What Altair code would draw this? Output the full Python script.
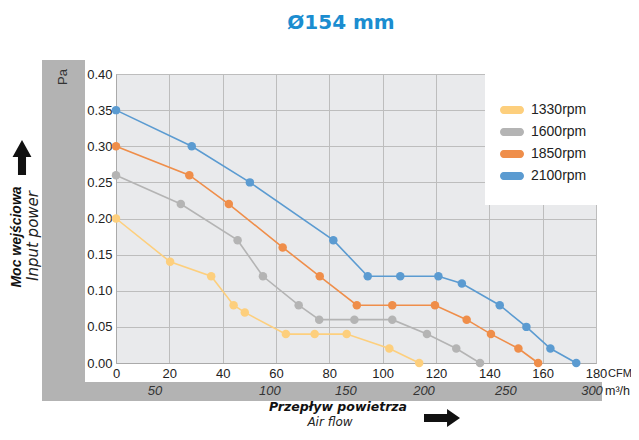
import altair as alt
import pandas as pd

# ---- data ----
series_names = ["1330rpm", "1600rpm", "1850rpm", "2100rpm"]
series_colors = ["#fdcf7d", "#b4b4b4", "#ef8e4a", "#5b9bd1"]

cfm_1330 = [0, 20.3, 35.7, 44.1, 48.3, 63.7, 74.5, 86.5, 102.5, 113.7]
pa_1330 = [0.20, 0.14, 0.12, 0.08, 0.07, 0.04, 0.04, 0.04, 0.02, 0.00]

cfm_1600 = [0, 24.3, 45.6, 55.1, 68.5, 76.2, 89.4, 103.6, 116.6, 127.6, 136.5]
pa_1600 = [0.26, 0.22, 0.17, 0.12, 0.08, 0.06, 0.06, 0.06, 0.04, 0.02, 0.00]

cfm_1850 = [0, 27.5, 42.3, 62.5, 76.4, 90.3, 103.6, 119.6, 131.5, 140.6, 150.9, 158.3]
pa_1850 = [0.30, 0.26, 0.22, 0.16, 0.12, 0.08, 0.08, 0.08, 0.06, 0.04, 0.02, 0.00]

cfm_2100 = [0, 28.4, 50.2, 81.5, 94.4, 106.6, 120.9, 129.7, 143.9, 153.9, 162.9, 172.6]
pa_2100 = [0.35, 0.30, 0.25, 0.17, 0.12, 0.12, 0.12, 0.11, 0.08, 0.05, 0.02, 0.00]

x_ticks = [0, 10, 20, 30, 40, 50, 60, 70, 80, 90, 100, 110, 120, 130, 140, 150, 160, 170, 180]
y_ticks = [0.0, 0.05, 0.10, 0.15, 0.20, 0.25, 0.30, 0.35, 0.40]

m3h_labels = ["50", "100", "150", "200", "250", "300"]
m3h_label_pos_cfm = [14.6, 57.7, 86.2, 115.5, 146.2, 178.5]

title_text = "Ø154 mm"

# ---- build table ----
rows = []
for name, xs, ys in zip(series_names,
                        [cfm_1330, cfm_1600, cfm_1850, cfm_2100],
                        [pa_1330, pa_1600, pa_1850, pa_2100]):
    for i, (a, b) in enumerate(zip(xs, ys)):
        rows.append({"series": name, "cfm": a, "pa": b, "idx": i})
df = pd.DataFrame(rows)
m3h_df = pd.DataFrame({"label": m3h_labels, "pos": m3h_label_pos_cfm})
one = pd.DataFrame({"a": [0]})

FONT = "Liberation Sans"
TXT = "#222222"
GRID = "#bdbdbd"

xscale = alt.Scale(domain=[0, 180], nice=False, zero=False)
yscale = alt.Scale(domain=[0, 0.4], nice=False)
cscale = alt.Scale(domain=series_names, range=series_colors)

xaxis = alt.Axis(values=x_ticks, format="d", title=None, labelFont=FONT,
                 labelFontSize=13, labelColor=TXT, ticks=False, tickSize=0,
                 labelPadding=4, domainColor="#aaaaaa", gridColor=GRID,
                 gridWidth=1, labelOverlap=False, labelFlush=False)
yaxis = alt.Axis(values=y_ticks, format=".2f", title=None, labelFont=FONT,
                 labelFontSize=13, labelColor=TXT, ticks=False, tickSize=0,
                 labelPadding=4, domainColor="#aaaaaa", gridColor=GRID,
                 gridWidth=1, labelOverlap=False, labelFlush=False)

pill = "M-0.7,-0.33L0.7,-0.33A0.3,0.33 0 0 1 1,0A0.3,0.33 0 0 1 0.7,0.33L-0.7,0.33A0.3,0.33 0 0 1 -1,0A0.3,0.33 0 0 1 -0.7,-0.33Z"

legend = alt.Legend(
    title=None, orient="none", legendX=384, legendY=24,
    symbolType=pill, symbolSize=576, symbolStrokeWidth=0,
    symbolOpacity=1, labelFont=FONT, labelFontSize=14, labelColor=TXT,
    labelOffset=7, rowPadding=3, padding=0, zindex=2)

lines = alt.Chart(df).mark_line(strokeWidth=1.6).encode(
    x=alt.X("cfm:Q", scale=xscale, axis=xaxis),
    y=alt.Y("pa:Q", scale=yscale, axis=yaxis),
    color=alt.Color("series:N", scale=cscale, legend=legend),
    order="idx:Q",
)

points = alt.Chart(df).mark_circle(size=72, opacity=1).encode(
    x=alt.X("cfm:Q", scale=xscale, axis=xaxis),
    y=alt.Y("pa:Q", scale=yscale, axis=yaxis),
    color=alt.Color("series:N", scale=cscale, legend=legend),
)

def rect(x, x2, y, y2, color):
    return alt.Chart(one).mark_rect(color=color).encode(
        x=alt.value(x), x2=alt.value(x2), y=alt.value(y), y2=alt.value(y2))

band_left = rect(-74, -31, -14, 327, "#b3b3b3")
band_bottom = rect(-74, 486, 308, 327, "#b3b3b3")
legend_box = rect(369, 481, 0, 131, "#ffffff")

def text(t, x, y, size, font=FONT, weight="normal", style="normal",
         angle=0, align="center", color=TXT):
    return alt.Chart(one).mark_text(
        text=t, font=font, fontSize=size, fontWeight=weight, fontStyle=style,
        angle=angle, align=align, baseline="middle", color=color
    ).encode(x=alt.value(x), y=alt.value(y))

title = text(title_text, 225, -51, 20, font="DejaVu Sans", weight="bold",
             color="#1b8dd0")
pa_lbl = text("Pa", -53, 3, 13, angle=270, color="#333333")
moc = text("Moc wejściowa", -99, 163, 14, weight="bold", style="italic",
           angle=270, color="#111111")
inp = text("Input power", -83, 162, 15, font="DejaVu Sans", style="italic",
           angle=270, color="#222222")
cfm_lbl = text("CFM", 492, 300, 11, align="left")
m3h_lbl = text("m³/h", 489, 317, 12.5, align="left")
prz = text("Przepływ powietrza", 222, 333, 12.5, font="DejaVu Sans",
           weight="bold", style="italic", color="#111111")
air = text("Air flow", 214, 348, 12, font="DejaVu Sans", style="italic")

m3h_ticks = alt.Chart(m3h_df).mark_text(
    font=FONT, fontSize=13, fontStyle="italic", color="#333333",
    align="center", baseline="middle"
).encode(x=alt.X("pos:Q", scale=xscale, title=None), y=alt.value(317),
         text="label:N")

up_path = "M0,-1L0.54,-0.03L0.23,-0.03L0.23,1L-0.23,1L-0.23,-0.03L-0.54,-0.03Z"
right_path = "M1,0L0.28,0.5L0.28,0.22L-1,0.22L-1,-0.22L0.28,-0.22L0.28,-0.5Z"

up_arrow = alt.Chart(one).mark_point(
    shape=up_path, size=1225, filled=True, color="#111111", opacity=1,
    strokeWidth=0).encode(x=alt.value(-94), y=alt.value(83.5))
right_arrow = alt.Chart(one).mark_point(
    shape=right_path, size=1296, filled=True, color="#111111", opacity=1,
    strokeWidth=0).encode(x=alt.value(326), y=alt.value(344))

chart = alt.layer(
    band_left, band_bottom, legend_box, lines, points, m3h_ticks,
    title, pa_lbl, moc, inp, cfm_lbl, m3h_lbl, prz, air, up_arrow, right_arrow
).properties(
    width=480, height=289,
    autosize=alt.AutoSizeParams(type="none"),
    padding={"left": 108, "top": 66, "right": 35, "bottom": 65},
    background="#ffffff",
).configure_view(fill="#e9eaec", stroke=GRID, strokeWidth=1)

chart.save("out.html", embed_options={"renderer": "svg", "actions": False})
